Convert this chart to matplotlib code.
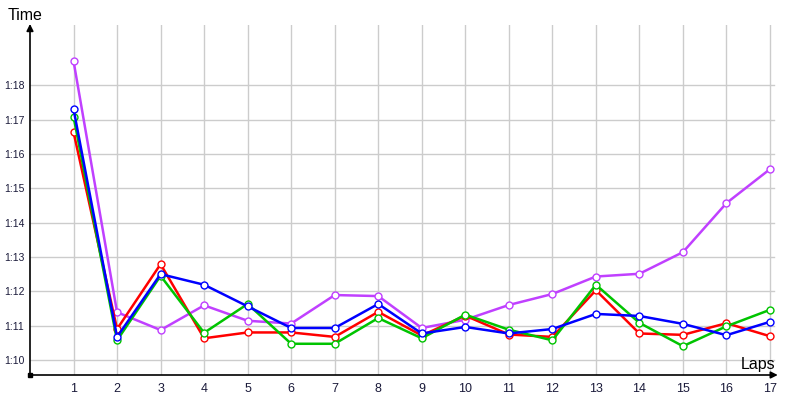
import matplotlib
import matplotlib.pyplot as plt

matplotlib.use('agg')

# lap numbers and lap times in seconds
laps = list(range(1, 18))
purple = [78.71, 71.39, 70.87, 71.59, 71.14, 71.06, 71.89, 71.86, 70.93, 71.17,
          71.60, 71.92, 72.43, 72.51, 73.14, 74.57, 75.56]
red = [76.64, 70.90, 72.79, 70.63, 70.80, 70.80, 70.67, 71.40, 70.71, 71.29,
       70.74, 70.67, 72.03, 70.77, 70.73, 71.07, 70.69]
green = [77.09, 70.57, 72.45, 70.79, 71.63, 70.47, 70.47, 71.22, 70.63, 71.32,
         70.88, 70.57, 72.19, 71.08, 70.40, 70.98, 71.46]
blue = [77.31, 70.67, 72.50, 72.19, 71.56, 70.93, 70.93, 71.63, 70.77, 70.96,
        70.77, 70.90, 71.34, 71.28, 71.05, 70.72, 71.11]

y_ticks = [70, 71, 72, 73, 74, 75, 76, 77, 78]
y_labels = ['1:10', '1:11', '1:12', '1:13', '1:14', '1:15', '1:16', '1:17', '1:18']

plt.rcParams['font.family'] = ['Liberation Sans', 'DejaVu Sans']

fig = plt.figure(figsize=(8, 4), dpi=100)
ax = fig.add_axes([30 / 800, 25 / 400, 750 / 800, 350 / 400])
ax.set_xlim(0, 17.23)
ax.set_ylim(69.56, 79.76)

for s in ax.spines.values():
    s.set_visible(False)

# grid
for v in laps:
    ax.axvline(v, color='#cccccc', linewidth=1, zorder=0)
for t in y_ticks:
    ax.plot([0, 17.1], [t, t], color='#cccccc', linewidth=1, zorder=0)

ax.set_xticks(laps)
ax.set_xticklabels([str(v) for v in laps])
ax.set_yticks(y_ticks)
ax.set_yticklabels(y_labels)
ax.tick_params(length=0, labelcolor='#1a1a3a')
ax.tick_params(axis='x', pad=6, labelsize=9)
ax.tick_params(axis='y', pad=0, labelsize=7.5)
for lab in ax.get_yticklabels():
    lab.set_horizontalalignment('left')
    lab.set_x(-26 / 750)

series = [(purple, '#c040ff'), (red, '#ff0000'), (green, '#00c400'), (blue, '#0000ff')]
for vals, c in series:
    ax.plot(laps, vals, color=c, linewidth=1.8, marker='o', markersize=5,
            markerfacecolor='white', markeredgecolor=c, markeredgewidth=1.0,
            clip_on=False, zorder=3)

# axis arrows
ax.annotate('', xy=(0, 1.003), xytext=(0, 0), xycoords='axes fraction',
            arrowprops=dict(arrowstyle='-|>', color='black', lw=1.2,
                            mutation_scale=10, shrinkA=0, shrinkB=0))
ax.annotate('', xy=(0.997, 0), xytext=(0, 0), xycoords='axes fraction',
            arrowprops=dict(arrowstyle='-|>', color='black', lw=1.2,
                            mutation_scale=10, shrinkA=0, shrinkB=0))
ax.plot([0], [69.56], marker='s', color='black', markersize=2.5, clip_on=False)

fig.text(8 / 800, 1 - 20 / 400, 'Time', fontsize=11.5, color='black',
         ha='left', va='baseline')
fig.text(775 / 800, 1 - 369 / 400, 'Laps', fontsize=11.5, color='black',
         ha='right', va='baseline')

fig.savefig('out.png', dpi=100)
plt.close(fig)
